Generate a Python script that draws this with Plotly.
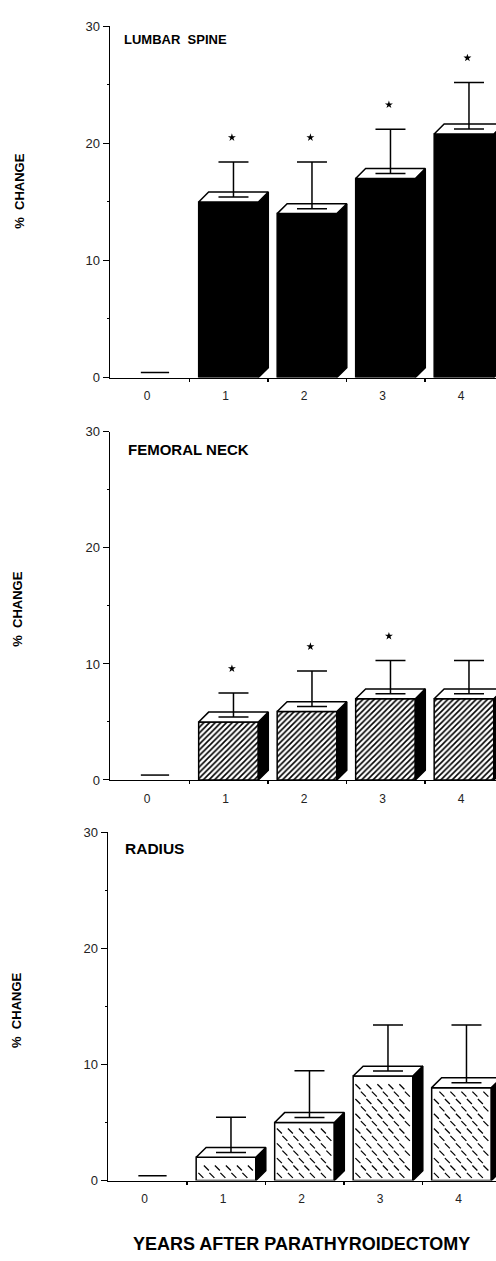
import plotly.graph_objects as go

# ---------------- data ----------------
years = [0, 1, 2, 3, 4]
year_labels = ["0", "1", "2", "3", "4"]
bar_years = [1, 2, 3, 4]
baseline_value = 0.0  # year 0 (reference)

lumbar_mean = [15.0, 14.0, 17.0, 20.8]
lumbar_sem = [3.4, 4.4, 4.2, 4.4]
lumbar_sig = [True, True, True, True]

femoral_mean = [5.0, 5.9, 7.0, 7.0]
femoral_sem = [2.5, 3.5, 3.3, 3.3]
femoral_sig = [True, True, True, False]

radius_mean = [2.0, 5.0, 9.0, 8.0]
radius_sem = [3.45, 4.45, 4.4, 5.4]
radius_sig = [False, False, False, False]

panel_titles = ["LUMBAR&nbsp; SPINE", "FEMORAL NECK", "RADIUS"]
y_ticks = [0, 10, 20, 30]
y_title = "%&nbsp; CHANGE"
x_title = "YEARS AFTER PARATHYROIDECTOMY"

# ---------------- style ----------------
W, H = 496, 1261
FONT = "Liberation Sans, Arial, Helvetica, sans-serif"
BAR_W = 0.76
DX = 0.127   # 3-D depth offset (x units)
DY = 0.85    # 3-D depth offset (y units)
LW = 1.5

panels = [
    dict(mean=lumbar_mean, sem=lumbar_sem, sig=lumbar_sig, fill="solid",
         ypx=(19.5, 375.0), xaxis_px=110, c0px=150, title_px=(122, 33, 13), ylab_px=(20, 187)),
    dict(mean=femoral_mean, sem=femoral_sem, sig=femoral_sig, fill="hatch",
         ypx=(430.0, 782.3), xaxis_px=110, c0px=150, title_px=(126, 448, 15), ylab_px=(18, 610)),
    dict(mean=radius_mean, sem=radius_sem, sig=radius_sig, fill="dash",
         ypx=(835.0, 1187.7), xaxis_px=108, c0px=147.5, title_px=(123, 852, 15.5), ylab_px=(17, 1016)),
]
PX_PER_CAT = 78.5

fig = go.Figure()
layout = dict(
    width=W, height=H, margin=dict(l=0, r=0, t=0, b=0),
    paper_bgcolor="white", plot_bgcolor="white", showlegend=False,
    hovermode=False, barmode="overlay", font=dict(family=FONT, color="black"),
    annotations=[],
)

for i, p in enumerate(panels):
    n = "" if i == 0 else str(i + 1)
    xa, ya = "x" + n, "y" + n
    top_px, bot_px = p["ypx"]
    left = -(p["c0px"] - p["xaxis_px"]) / PX_PER_CAT
    right = (W - p["c0px"]) / PX_PER_CAT
    mean, sem, sig = p["mean"], p["sem"], p["sig"]

    # front faces
    if p["fill"] == "solid":
        marker = dict(color="black", line=dict(color="black", width=LW))
    elif p["fill"] == "hatch":
        marker = dict(color="white", line=dict(color="black", width=LW),
                      pattern=dict(shape="/", size=4, solidity=0.4, fgcolor="black",
                                   bgcolor="white", fillmode="replace"))
    else:
        marker = dict(color="white", line=dict(color="black", width=LW))
    fig.add_trace(go.Bar(x=bar_years, y=mean, width=BAR_W, marker=marker,
                         xaxis=xa, yaxis=ya))

    # dashed texture for the radius panel
    if p["fill"] == "dash":
        sx, sy = 11 / PX_PER_CAT, 7.5 / 11.8
        tx, ty = [], []
        for c, v in zip(bar_years, mean):
            L, R = c - BAR_W / 2, c + BAR_W / 2
            j = 0
            y = 0.45
            while y < v - 0.3:
                off = (j % 2) * sx / 2
                x = L + 0.06 + off
                while x < R - 0.05:
                    tx.append(x)
                    ty.append(y)
                    x += sx
                y += sy
                j += 1
        fig.add_trace(go.Scatter(x=tx, y=ty, mode="markers", xaxis=xa, yaxis=ya,
                                 marker=dict(symbol="line-nw", size=5, color="black",
                                             line=dict(color="black", width=1.2))))

    # side faces and top faces
    sxs, sys_, txs, tys = [], [], [], []
    for c, v in zip(bar_years, mean):
        L, R = c - BAR_W / 2, c + BAR_W / 2
        sxs += [R, R, R + DX, R + DX, R, None]
        sys_ += [0, v, v + DY, DY, 0, None]
        txs += [L, R, R + DX, L + DX, L, None]
        tys += [v, v, v + DY, v + DY, v, None]
    fig.add_trace(go.Scatter(x=sxs, y=sys_, mode="lines", fill="toself", fillcolor="black",
                             line=dict(color="black", width=LW), xaxis=xa, yaxis=ya))
    fig.add_trace(go.Scatter(x=txs, y=tys, mode="lines", fill="toself", fillcolor="white",
                             line=dict(color="black", width=LW), xaxis=xa, yaxis=ya))

    # error bars (from the centre of the top face)
    fig.add_trace(go.Scatter(
        x=[c + DX / 2 for c in bar_years], y=[v + DY / 2 for v in mean], mode="markers",
        marker=dict(size=1, opacity=0), xaxis=xa, yaxis=ya,
        error_y=dict(type="data", symmetric=False, array=[s - DY / 2 for s in sem],
                     arrayminus=[0] * len(sem), width=15, thickness=LW, color="black")))

    # significance stars
    stx = [c + DX / 2 - 0.02 for c, s in zip(bar_years, sig) if s]
    sty = [v + e + 2.1 for v, e, s in zip(mean, sem, sig) if s]
    if stx:
        fig.add_trace(go.Scatter(x=stx, y=sty, mode="markers", xaxis=xa, yaxis=ya,
                                 marker=dict(symbol="star", size=6, color="black")))

    # year 0 reference mark
    fig.add_trace(go.Scatter(x=[years[0] + DX / 2 - 0.18, years[0] + DX / 2 + 0.18],
                             y=[baseline_value + DY / 2] * 2, mode="lines",
                             line=dict(color="black", width=LW), xaxis=xa, yaxis=ya))

    layout["xaxis" + n] = dict(
        domain=[p["xaxis_px"] / W, 1], range=[left, right], anchor=ya,
        showline=True, linecolor="black", linewidth=LW, showgrid=False, zeroline=False,
        tickmode="array", tickvals=years, ticktext=year_labels, ticks="",
        ticklabelstandoff=7, ticklabelshift=-3,
        tickfont=dict(family=FONT, size=12, color="#222"),
        minor=dict(tickmode="array", tickvals=[0.5, 1.5, 2.5, 3.5], ticks="outside",
                   ticklen=3, tickwidth=LW, tickcolor="black"),
    )
    layout["yaxis" + n] = dict(
        domain=[1 - bot_px / H, 1 - top_px / H], range=[0, 30], anchor=xa,
        showline=True, linecolor="black", linewidth=LW, showgrid=False, zeroline=False,
        tickmode="array", tickvals=y_ticks, ticks="outside", ticklen=6, tickwidth=1,
        tickcolor="black", tickfont=dict(family=FONT, size=13, color="#222"),
        minor=dict(tickmode="array", tickvals=[5, 15, 25], ticks="outside", ticklen=2,
                   tickwidth=1, tickcolor="black"),
    )

    tx_, ty_, tfs = p["title_px"]
    layout["annotations"].append(dict(
        text="<b>" + panel_titles[i] + "</b>", xref="paper", yref="paper",
        x=tx_ / W, y=1 - ty_ / H, xanchor="left", yanchor="middle", showarrow=False,
        font=dict(family=FONT, size=tfs, color="black")))
    lx, ly = p["ylab_px"]
    layout["annotations"].append(dict(
        text="<b>" + y_title + "</b>", xref="paper", yref="paper", textangle=-90,
        x=lx / W, y=1 - ly / H, xanchor="center", yanchor="middle", showarrow=False,
        font=dict(family=FONT, size=13, color="black")))

layout["annotations"].append(dict(
    text="<b>" + x_title + "</b>", xref="paper", yref="paper",
    x=301 / W, y=1 - 1252 / H, xanchor="center", yanchor="middle", showarrow=False,
    font=dict(family=FONT, size=18, color="black")))

fig.update_layout(**layout)
fig.write_html(
    "out.html",
    config={"displayModeBar": False, "staticPlot": True},
    post_script="document.documentElement.style.margin='0';"
                "document.body.style.margin='0';"
                "document.documentElement.style.overflow='hidden';"
                "document.body.style.overflow='hidden';"
                "document.documentElement.style.height='" + str(H) + "px';"
                "document.body.style.height='" + str(H) + "px';"
                "var d=document.getElementById('{plot_id}');"
                "d.style.position='fixed';d.style.left='0px';d.style.top='0px';",
)
